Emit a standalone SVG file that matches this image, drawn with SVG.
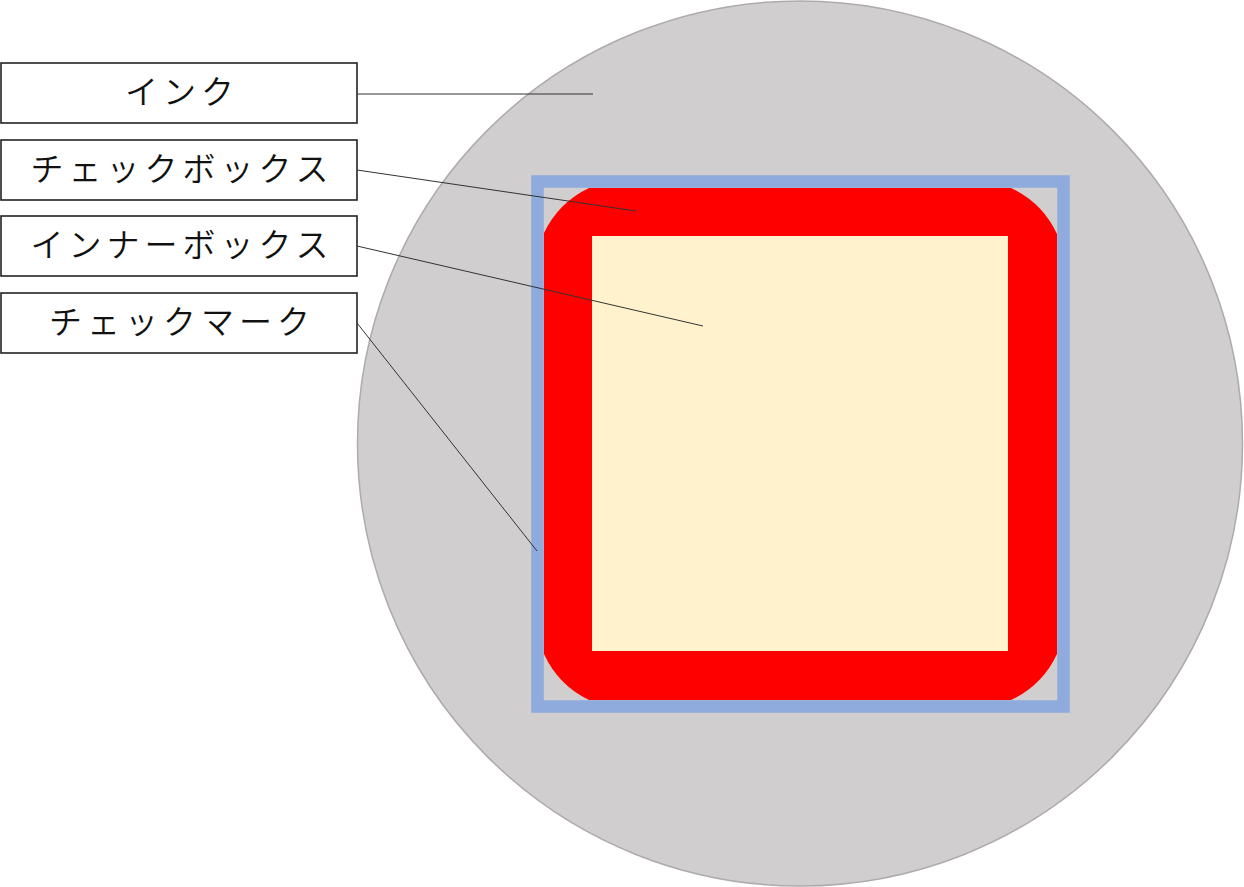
<svg xmlns="http://www.w3.org/2000/svg" width="1244" height="887" viewBox="0 0 1244 887">
<style>
.lbl rect{fill:#fff;stroke:#222;stroke-width:1.6}
.lbl text{font-family:"Noto Sans CJK JP","Noto Sans",sans-serif;font-size:33px;font-weight:350;fill:#111;text-anchor:middle;letter-spacing:5px}
.conn line{stroke:#333;stroke-width:1}
</style>
<rect width="1244" height="887" fill="#fff"/>
<g id="ink"><circle cx="800" cy="443.5" r="442.5" fill="#D0CECE" stroke="#AFABAB" stroke-width="1.5"/></g>
<g id="checkbox-border"><rect x="537.5" y="181.5" width="526" height="525" fill="none" stroke="#8FAADC" stroke-width="12.5"/></g>
<g id="checkmark"><path d="M589 188 H1011 A95 95 0 0 1 1057 234 V654 A95 95 0 0 1 1011 700 H589 A95 95 0 0 1 544 654 V233 A95 95 0 0 1 589 188 Z" fill="#FF0000"/></g>
<g id="innerbox"><rect x="592" y="236" width="416" height="415" fill="#FFF2CC"/></g>
<g id="label-ink" class="lbl"><rect x="1" y="63" width="356" height="60"/><text x="182" y="104">インク</text></g>
<g id="label-checkbox" class="lbl"><rect x="1" y="140" width="356" height="60"/><text x="182" y="181">チェックボックス</text></g>
<g id="label-innerbox" class="lbl"><rect x="1" y="216" width="356" height="60"/><text x="182" y="257">インナーボックス</text></g>
<g id="label-checkmark" class="lbl"><rect x="1" y="293" width="356" height="60"/><text x="182" y="334">チェックマーク</text></g>
<g id="connectors" class="conn">
<line x1="357" y1="94" x2="593" y2="94"/>
<line x1="357" y1="170" x2="636" y2="211"/>
<line x1="357" y1="246" x2="703" y2="326"/>
<line x1="357" y1="323" x2="537" y2="551"/>
</g>
</svg>
